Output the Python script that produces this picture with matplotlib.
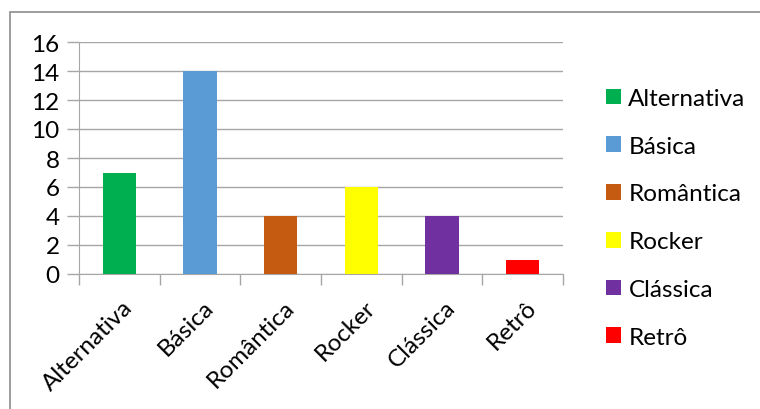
import matplotlib
matplotlib.use("Agg")
import matplotlib.pyplot as plt
from matplotlib.patches import Rectangle, Patch

categories = ["Alternativa", "Básica", "Romântica", "Rocker", "Clássica", "Retrô"]
values = [7, 14, 4, 6, 4, 1]
colors = ["#00B050", "#5B9BD5", "#C55A11", "#FFFF00", "#7030A0", "#FF0000"]
yticks = [0, 2, 4, 6, 8, 10, 12, 14, 16]

plt.rcParams['font.family'] = ['Lato', 'DejaVu Sans']
FS = 17.5

W, H = 760, 410
fig = plt.figure(figsize=(W / 100, H / 100), dpi=100)
fig.patch.set_facecolor("white")

# outer chart border
fig.patches.append(Rectangle((10 / W, -0.1), 1.2, (410 - 13) / H + 0.1,
                             transform=fig.transFigure, fill=False,
                             edgecolor="#8c8c8c", linewidth=1.2))

ax = fig.add_axes([79 / W, (410 - 275) / H, 484 / W, 232 / H])
x = list(range(len(categories)))
bars = ax.bar(x, values, width=0.41, color=colors, zorder=3)

ax.set_xlim(-0.5, len(categories) - 0.5)
ax.set_ylim(0, 16)
ax.set_yticks(yticks)
ax.set_yticklabels([str(v) for v in yticks], fontsize=FS)
ax.yaxis.grid(True, color="#A6A6A6", linewidth=1.0, zorder=0)
ax.tick_params(axis='y', length=9, color="#A6A6A6", width=1.0, pad=5)

ax.set_xticks([i - 0.5 for i in range(len(categories) + 1)])
ax.set_xticklabels([])
ax.tick_params(axis='x', length=8, color="#A6A6A6", width=1.0)
for i, c in enumerate(categories):
    ax.annotate(c, xy=(i, 0), xycoords=('data', 'axes fraction'),
                xytext=(2, -16), textcoords='offset points',
                rotation=45, ha='right', va='top', rotation_mode='anchor',
                fontsize=FS)

for s in ["top", "right"]:
    ax.spines[s].set_visible(False)
ax.spines["left"].set_color("#A6A6A6")
ax.spines["bottom"].set_color("#A6A6A6")
ax.set_axisbelow(True)

handles = [Patch(facecolor=c, edgecolor='none') for c in colors]
leg = fig.legend(handles, categories, loc='upper left',
                 bbox_to_anchor=(589 / W, 1 - 72 / H), frameon=False,
                 fontsize=FS, handlelength=0.62, handleheight=0.62,
                 handletextpad=0.3, labelspacing=1.1, borderpad=0.2)

fig.savefig("out.png", dpi=100)
